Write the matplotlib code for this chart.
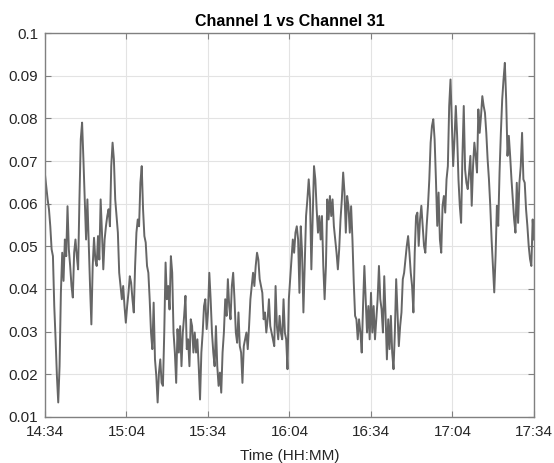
import numpy as np
import pandas as pd
import matplotlib
matplotlib.use('Agg')
import matplotlib.pyplot as plt
import matplotlib.dates as mdates

plt.rcParams['font.family'] = ['Liberation Sans', 'DejaVu Sans']

# Channel 1 vs Channel 31 readings, ~30 s apart, 14:34 -> 17:34
seg1 = [0.0668, 0.0640, 0.0610, 0.0587, 0.0547, 0.0493, 0.0477, 0.0360, 0.0282, 0.0196,
        0.0134, 0.0219, 0.0391, 0.0485, 0.0419, 0.0516, 0.0477, 0.0594, 0.0493, 0.0454,
        0.0407, 0.0380, 0.0485, 0.0516, 0.0477, 0.0446, 0.0610, 0.0751, 0.0790, 0.0704,
        0.0610, 0.0516, 0.0610, 0.0509, 0.0407, 0.0317, 0.0454, 0.0520, 0.0469, 0.0454,
        0.0524, 0.0469, 0.0610, 0.0532, 0.0446, 0.0516, 0.0547, 0.0571, 0.0587, 0.0547,
        0.0688, 0.0743, 0.0704, 0.0610, 0.0571, 0.0532, 0.0438, 0.0407, 0.0376, 0.0407,
        0.0360, 0.0321, 0.0360, 0.0391, 0.0430]
seg2 = [0.0415, 0.0376, 0.0345, 0.0454, 0.0532, 0.0563, 0.0547, 0.0649, 0.0688, 0.0587,
        0.0524, 0.0509, 0.0454, 0.0438, 0.0376, 0.0298, 0.0259, 0.0368, 0.0235, 0.0196,
        0.0134, 0.0204, 0.0235, 0.0180, 0.0173, 0.0298, 0.0462, 0.0376, 0.0407, 0.0352,
        0.0477, 0.0438, 0.0298, 0.0251, 0.0180, 0.0306, 0.0251, 0.0313, 0.0219, 0.0298,
        0.0337, 0.0384, 0.0259, 0.0282, 0.0219, 0.0329, 0.0313, 0.0251, 0.0298, 0.0251,
        0.0282, 0.0219, 0.0141, 0.0251, 0.0298, 0.0360, 0.0376, 0.0306, 0.0345, 0.0438,
        0.0376, 0.0298, 0.0251, 0.0219, 0.0313, 0.0219, 0.0173]
seg3 = [0.0204, 0.0157, 0.0251, 0.0298, 0.0376, 0.0337, 0.0423, 0.0360, 0.0329, 0.0407,
        0.0438, 0.0376, 0.0298, 0.0274, 0.0345, 0.0266, 0.0251, 0.0180, 0.0266, 0.0282,
        0.0298, 0.0259, 0.0313, 0.0376, 0.0407, 0.0438, 0.0407, 0.0454, 0.0485, 0.0469,
        0.0423, 0.0407, 0.0391, 0.0329, 0.0345, 0.0298, 0.0329, 0.0376, 0.0313, 0.0298,
        0.0282, 0.0266, 0.0407, 0.0313, 0.0282, 0.0337, 0.0298, 0.0282, 0.0376, 0.0298,
        0.0282, 0.0212, 0.0376, 0.0423, 0.0469, 0.0516, 0.0485, 0.0532, 0.0547, 0.0516,
        0.0391, 0.0547, 0.0485, 0.0345, 0.0454, 0.0571, 0.0610, 0.0657]
seg4 = [0.0610, 0.0446, 0.0571, 0.0688, 0.0657, 0.0587, 0.0532, 0.0571, 0.0516, 0.0571,
        0.0454, 0.0376, 0.0454, 0.0610, 0.0563, 0.0618, 0.0571, 0.0610, 0.0547, 0.0516,
        0.0485, 0.0446, 0.0493, 0.0563, 0.0610, 0.0673, 0.0626, 0.0532, 0.0618, 0.0594,
        0.0532, 0.0594, 0.0516, 0.0415, 0.0337, 0.0329, 0.0282, 0.0329, 0.0298, 0.0251,
        0.0360, 0.0454, 0.0376, 0.0298, 0.0360, 0.0282, 0.0391, 0.0298, 0.0360, 0.0282,
        0.0329, 0.0376, 0.0454, 0.0376, 0.0352, 0.0298, 0.0430, 0.0337, 0.0235, 0.0329,
        0.0259, 0.0337, 0.0251, 0.0212, 0.0298, 0.0423, 0.0345, 0.0266, 0.0313]
seg5 = [0.0345, 0.0423, 0.0438, 0.0470, 0.0501, 0.0524, 0.0485, 0.0438, 0.0407, 0.0345,
        0.0485, 0.0571, 0.0579, 0.0501, 0.0563, 0.0595, 0.0548, 0.0501, 0.0485, 0.0548,
        0.0595, 0.0657, 0.0743, 0.0782, 0.0798, 0.0751, 0.0657, 0.0548, 0.0626, 0.0516,
        0.0485, 0.0595, 0.0618, 0.0579, 0.0657, 0.0688, 0.0829, 0.0891, 0.0790, 0.0688,
        0.0751, 0.0829, 0.0759, 0.0657, 0.0595, 0.0555, 0.0712, 0.0829, 0.0680, 0.0649,
        0.0634, 0.0673, 0.0712, 0.0595, 0.0688, 0.0743, 0.0712, 0.0673, 0.0821, 0.0766,
        0.0805, 0.0852, 0.0829, 0.0813, 0.0766, 0.0704, 0.0657, 0.0595, 0.0516, 0.0454,
        0.0392, 0.0477, 0.0595, 0.0548, 0.0673, 0.0766, 0.0844, 0.0891, 0.0930, 0.0844,
        0.0712, 0.0759, 0.0712, 0.0657, 0.0610, 0.0563, 0.0532, 0.0649, 0.0555, 0.0649,
        0.0688, 0.0766, 0.0657, 0.0649, 0.0587, 0.0548, 0.0501, 0.0470, 0.0454, 0.0563,
        0.0516]
values = np.array(seg1 + seg2 + seg3 + seg4 + seg5)

t_start = pd.Timestamp('2020-01-01 14:34')
t_end = pd.Timestamp('2020-01-01 17:34')
times = pd.date_range(t_start, t_end, periods=len(values))

x_ticks = pd.date_range(t_start, t_end, freq='30min')
y_ticks = [0.01, 0.02, 0.03, 0.04, 0.05, 0.06, 0.07, 0.08, 0.09, 0.1]
y_labels = ['0.01', '0.02', '0.03', '0.04', '0.05', '0.06', '0.07', '0.08', '0.09', '0.1']

fig = plt.figure(figsize=(5.54, 4.63), dpi=100)
ax = fig.add_axes([0.0812, 0.0994, 0.8827, 0.8293])

ax.plot(times, values, color='#666666', lw=1.4)

ax.set_xlim(t_start, t_end)
ax.set_ylim(0.01, 0.1)
ax.set_xticks(x_ticks)
ax.xaxis.set_major_formatter(mdates.DateFormatter('%H:%M'))
ax.set_yticks(y_ticks)
ax.set_yticklabels(y_labels)

ax.grid(True, color='#e3e3e3', lw=0.8)
ax.set_axisbelow(True)
for s in ax.spines.values():
    s.set_color('#808080')
    s.set_linewidth(1.0)
ax.tick_params(direction='in', top=True, right=True, length=4, color='#808080',
               labelsize=11, labelcolor='#262626')
ax.tick_params(axis='x', pad=6)
ax.tick_params(axis='y', pad=5)

ax.set_title('Channel 1 vs Channel 31', fontsize=11.5, fontweight='bold', pad=5)
ax.set_xlabel('Time (HH:MM)', fontsize=11, color='#262626', labelpad=7)

fig.savefig('out.png', dpi=100)
